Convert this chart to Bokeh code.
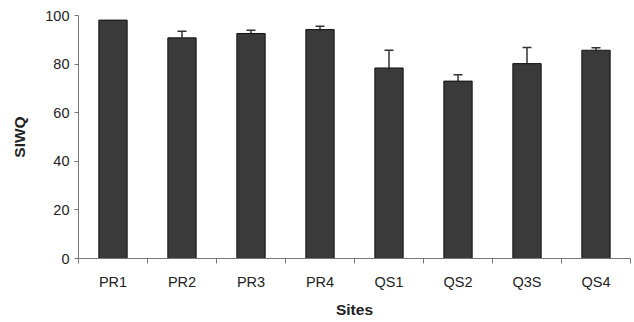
from bokeh.plotting import figure
from bokeh.models import ColumnDataSource, Range1d, FixedTicker, Whisker, TeeHead
from bokeh.embed import file_html
from bokeh.resources import INLINE

sites = ["PR1", "PR2", "PR3", "PR4", "QS1", "QS2", "Q3S", "QS4"]
siwq = [98.1, 90.8, 92.6, 94.2, 78.4, 73.0, 80.2, 85.7]
err = [0.0, 2.7, 1.3, 1.4, 7.3, 2.6, 6.6, 1.0]
y_ticks = [0, 20, 40, 60, 80, 100]

xs = [i + 0.5 for i in range(len(sites))]
src = ColumnDataSource(dict(x=xs, top=siwq))
# error bars only where a deviation is shown
ex = [x for x, e in zip(xs, err) if e > 0]
elo = [v for v, e in zip(siwq, err) if e > 0]
ehi = [v + e for v, e in zip(siwq, err) if e > 0]
esrc = ColumnDataSource(dict(x=ex, lower=elo, upper=ehi))

FONT = "Liberation Sans"
p = figure(width=634, height=322, output_backend="svg", toolbar_location=None,
           x_range=Range1d(0, len(sites)), y_range=Range1d(0, 100),
           min_border_left=78, min_border_right=4, min_border_top=15, min_border_bottom=64)
p.outline_line_color = None
p.grid.visible = False
p.background_fill_color = "white"
p.border_fill_color = "white"

p.vbar(x="x", top="top", width=0.41, bottom=0, source=src,
       fill_color="#3a3a3a", line_color="#111111", line_width=1)

w = Whisker(source=esrc, base="x", lower="lower", upper="upper", dimension="height",
            line_color="#333333", line_width=1.5,
            lower_head=None, upper_head=TeeHead(size=9, line_color="#333333", line_width=1.5))
p.add_layout(w)

xa = p.xaxis[0]
xa.ticker = FixedTicker(ticks=xs, minor_ticks=list(range(len(sites) + 1)))
xa.major_label_overrides = {x: s for x, s in zip(xs, sites)}
xa.major_tick_line_color = None
xa.minor_tick_in = 0
xa.minor_tick_out = 5
xa.minor_tick_line_color = "#777777"
xa.axis_line_color = "#777777"
xa.major_label_text_font = FONT
xa.major_label_text_font_size = "14.5px"
xa.major_label_text_color = "#222222"
xa.major_label_standoff = 9
xa.axis_label = "Sites"
xa.axis_label_text_font = FONT
xa.axis_label_text_font_style = "bold"
xa.axis_label_text_font_size = "15.5px"
xa.axis_label_text_color = "#222222"
xa.axis_label_standoff = 8

ya = p.yaxis[0]
ya.ticker = FixedTicker(ticks=y_ticks)
ya.minor_tick_line_color = None
ya.major_tick_in = 0
ya.major_tick_out = 4
ya.major_tick_line_color = "#777777"
ya.axis_line_color = "#777777"
ya.major_label_text_font = FONT
ya.major_label_text_font_size = "14.5px"
ya.major_label_text_color = "#222222"
ya.major_label_standoff = 5
ya.axis_label = "SIWQ"
ya.axis_label_text_font = FONT
ya.axis_label_text_font_style = "bold"
ya.axis_label_text_font_size = "15.5px"
ya.axis_label_text_color = "#222222"
ya.axis_label_standoff = 14

open("out.html", "w").write(file_html(p, INLINE))
